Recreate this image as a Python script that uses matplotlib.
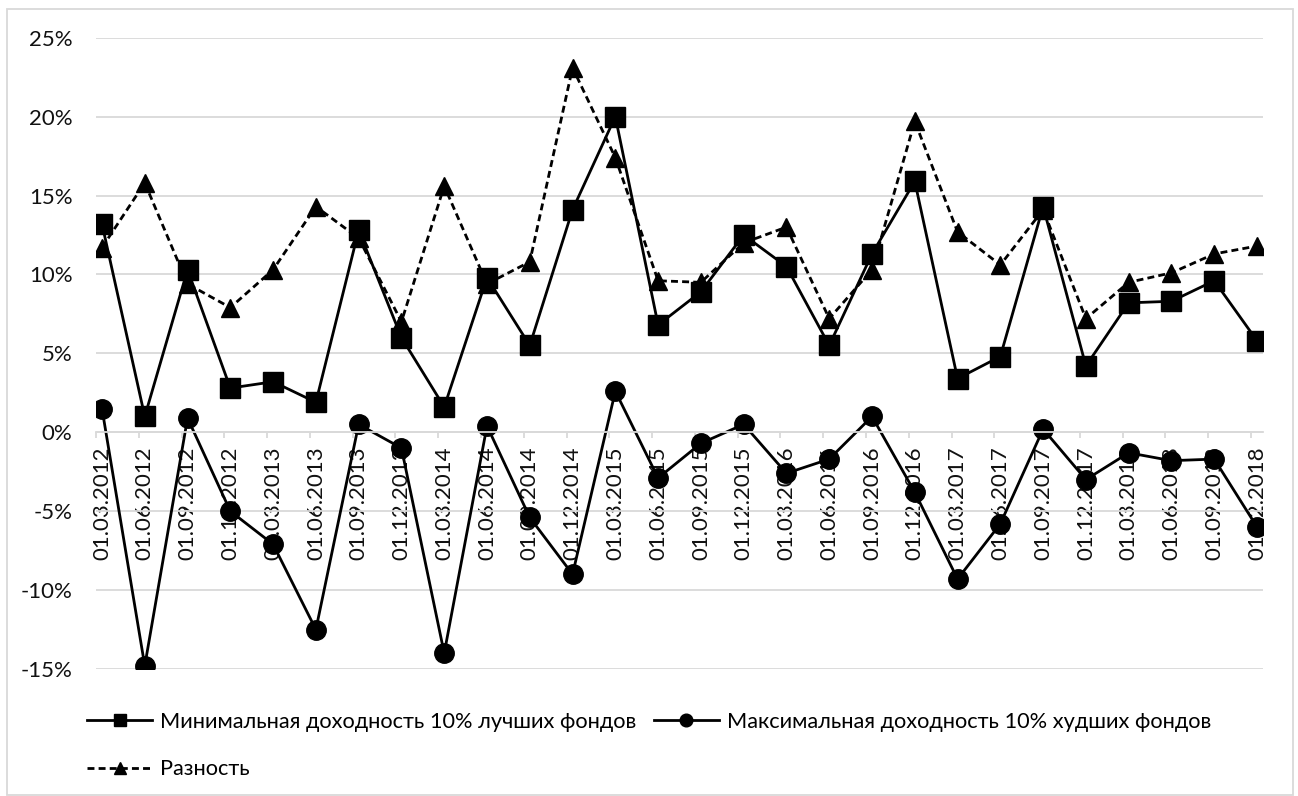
import matplotlib.pyplot as plt
from matplotlib.patches import Rectangle
from matplotlib.ticker import FuncFormatter

# quarterly dates
dates = ['01.03.2012', '01.06.2012', '01.09.2012', '01.12.2012',
         '01.03.2013', '01.06.2013', '01.09.2013', '01.12.2013',
         '01.03.2014', '01.06.2014', '01.09.2014', '01.12.2014',
         '01.03.2015', '01.06.2015', '01.09.2015', '01.12.2015',
         '01.03.2016', '01.06.2016', '01.09.2016', '01.12.2016',
         '01.03.2017', '01.06.2017', '01.09.2017', '01.12.2017',
         '01.03.2018', '01.06.2018', '01.09.2018', '01.12.2018']

# returns, %
best_min = [13.2, 1.0, 10.3, 2.8, 3.2, 1.9, 12.8, 6.0, 1.6, 9.8, 5.5, 14.1, 20.0, 6.8,
            8.9, 12.5, 10.5, 5.5, 11.3, 15.9, 3.4, 4.8, 14.3, 4.2, 8.2, 8.3, 9.6, 5.8]
worst_max = [1.5, -14.8, 0.9, -5.0, -7.1, -12.5, 0.5, -1.0, -14.0, 0.4, -5.4, -9.0, 2.6, -2.9,
             -0.7, 0.5, -2.6, -1.7, 1.0, -3.8, -9.3, -5.8, 0.2, -3.0, -1.3, -1.8, -1.7, -6.0]
spread = [11.7, 15.8, 9.4, 7.9, 10.3, 14.3, 12.3, 7.0, 15.6, 9.4, 10.8, 23.1, 17.4, 9.6,
          9.5, 12.0, 13.0, 7.2, 10.3, 19.7, 12.7, 10.6, 14.1, 7.2, 9.5, 10.1, 11.3, 11.8]

label_best = 'Минимальная доходность 10% лучших фондов'
label_worst = 'Максимальная доходность 10% худших фондов'
label_spread = 'Разность'

W, H = 1298, 796
GRID = '#d9d9d9'
FS = 16

plt.rcParams['font.family'] = ['Lato', 'DejaVu Sans']

fig = plt.figure(figsize=(W / 100, H / 100), dpi=100)
ax = fig.add_axes([96 / W, 1 - 669 / H, (1263 - 96) / W, (669 - 37.7) / H])

x = list(range(len(dates)))
h_best, = ax.plot(x, best_min, color='black', lw=2, marker='s', ms=14, label=label_best)
h_worst, = ax.plot(x, worst_max, color='black', lw=2, marker='o', ms=14, label=label_worst)
h_spread, = ax.plot(x, spread, color='black', lw=2, ls=(0, (2.5, 1.5)), marker='^', ms=13,
                    label=label_spread)

ax.set_ylim(-15, 25)
ax.set_yticks(range(-15, 26, 5))
ax.yaxis.set_major_formatter(FuncFormatter(lambda v, p: f'{v:.0f}%'))
ax.tick_params(axis='y', length=0, pad=17, labelsize=FS, labelcolor='#111111')
ax.yaxis.grid(True, color=GRID, lw=1.3)
ax.set_axisbelow(True)

# tick marks sit between categories, labels under the points
ax.set_xlim(-0.14, 27.14)
ax.set_xticks([i - 0.14 for i in x])
ax.set_xticklabels([])
ax.tick_params(axis='x', which='major', length=4, width=1.3, color=GRID)
ax.set_xticks(x, minor=True)
ax.set_xticklabels(dates, minor=True)
ax.tick_params(axis='x', which='minor', length=0, pad=10, labelsize=FS,
               labelcolor='#111111', labelrotation=90)

for side in ('left', 'right', 'top'):
    ax.spines[side].set_visible(False)
ax.spines['bottom'].set_position(('data', 0))
ax.spines['bottom'].set_color(GRID)
ax.spines['bottom'].set_linewidth(1.3)

fig.legend(handles=[h_best, h_spread, h_worst], ncol=2, loc='upper left',
           bbox_to_anchor=(87 / W, 1 - 712 / H), frameon=False, fontsize=15.7,
           handlelength=3.0, handletextpad=0.35, columnspacing=0.8, markerscale=0.65,
           labelspacing=1.25, borderpad=0, borderaxespad=0)

# light border round the whole chart
fig.patches.append(Rectangle((7 / W, 1 / H), 1286 / W, 786 / H, transform=fig.transFigure,
                             fill=False, edgecolor=GRID, lw=1.3))

fig.savefig('out.png', dpi=100)
